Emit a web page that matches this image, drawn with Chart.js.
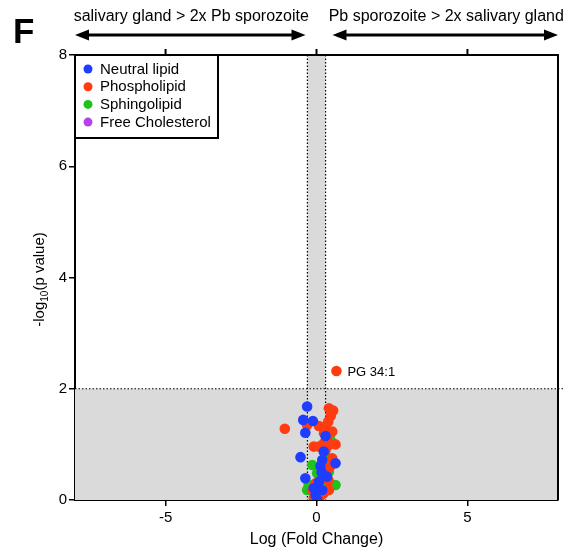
<!DOCTYPE html>
<html>
<head>
<meta charset="utf-8">
<script src="https://cdn.jsdelivr.net/npm/chart.js@4.4.0/dist/chart.umd.min.js"></script>
<style>
  html, body { margin: 0; padding: 0; background: #fff; }
  #wrap { width: 568px; height: 552px; position: relative; }
</style>
</head>
<body>
<div id="wrap"><canvas id="volcano"></canvas></div>
<script>
// [log fold change, -log10 p] per lipid class
const neutralLipid = [
  [-0.31, 1.68], [-0.44, 1.44], [-0.12, 1.42], [-0.37, 1.21], [0.30, 1.15],
  [-0.53, 0.77], [0.24, 0.87], [0.19, 0.72], [0.63, 0.66], [0.13, 0.61],
  [-0.37, 0.39], [0.08, 0.33], [0.35, 0.42], [-0.09, 0.21], [0.19, 0.18],
  [0.02, 0.01], [0.17, 0.50], [-0.03, 0.09]
];
const phospholipid = [
  [0.66, 2.32], [-1.05, 1.28], [0.41, 1.65], [0.55, 1.61], [0.47, 1.51],
  [0.39, 1.41], [0.08, 1.33], [0.30, 1.32], [-0.31, 1.35], [0.52, 1.23],
  [0.35, 1.08], [0.24, 1.02], [0.63, 1.00], [-0.09, 0.96], [0.08, 0.96],
  [0.41, 0.99], [0.30, 0.90], [0.52, 0.75], [0.35, 0.54], [-0.03, 0.30],
  [-0.14, 0.18], [0.24, 0.12], [-0.09, 0.03], [0.13, 0.07], [0.41, 0.18],
  [0.25, 1.20], [0.45, 0.60], [0.20, 0.40], [0.05, 0.12], [0.40, 0.35]
];
const sphingolipid = [
  [0.41, 1.23], [-0.14, 0.63], [0.47, 0.66], [0.41, 0.51], [0.63, 0.27],
  [-0.31, 0.18], [-0.26, 0.27], [0.30, 0.18], [0.19, 0.45], [0.02, 0.48],
  [0.30, 0.80], [0.15, 0.30], [-0.05, 0.10], [0.45, 1.10]
];
const freeCholesterol = [];

const classNames = ['Neutral lipid', 'Phospholipid', 'Sphingolipid', 'Free Cholesterol'];
const classColors = ['#1f3dff', '#ff3b12', '#1dc41d', '#b542e8'];
const xTicks = [-5, 0, 5];
const labelled = { name: 'PG 34:1', point: [0.66, 2.32] };

const FC_CUT = Math.log10(2);
const P_CUT = 2;
const FONT = 'Arial, "Liberation Sans", sans-serif';

function toXY(arr) { return arr.map(d => ({ x: d[0], y: d[1] })); }

const decor = {
  id: 'decor',
  beforeDatasetsDraw(chart) {
    const { ctx, chartArea: a, scales: { x, y } } = chart;
    const xl = x.getPixelForValue(-FC_CUT), xr = x.getPixelForValue(FC_CUT);
    const yc = y.getPixelForValue(P_CUT);
    ctx.save();
    ctx.fillStyle = '#dadada';
    ctx.fillRect(a.left, yc, a.right - a.left, a.bottom - yc);
    ctx.fillRect(xl, a.top, xr - xl, yc - a.top);
    ctx.strokeStyle = '#000';
    ctx.lineWidth = 1.2;
    ctx.setLineDash([1.5, 2]);
    ctx.beginPath();
    ctx.moveTo(a.left, yc); ctx.lineTo(a.right + 6, yc);
    ctx.moveTo(xl, a.top); ctx.lineTo(xl, a.bottom);
    ctx.moveTo(xr, a.top); ctx.lineTo(xr, a.bottom);
    ctx.stroke();
    ctx.restore();
  },
  afterDatasetsDraw(chart) {
    const { ctx, chartArea: a, scales: { x, y } } = chart;
    ctx.save();
    // frame top + right with upward ticks
    ctx.strokeStyle = '#000';
    ctx.lineWidth = 2;
    ctx.beginPath();
    ctx.moveTo(a.left - 1, a.top); ctx.lineTo(a.right, a.top); ctx.lineTo(a.right, a.bottom);
    xTicks.forEach(v => {
      const px = x.getPixelForValue(v);
      ctx.moveTo(px, a.top); ctx.lineTo(px, a.top - 6);
    });
    ctx.stroke();

    // legend box
    const lw = 143, lh = 83;
    ctx.fillStyle = '#fff';
    ctx.fillRect(a.left, a.top, lw, lh);
    ctx.strokeRect(a.left, a.top, lw, lh);
    ctx.font = '15px ' + FONT;
    ctx.textBaseline = 'middle';
    classNames.forEach((n, i) => {
      const ry = a.top + 14 + i * 17.7;
      ctx.fillStyle = classColors[i];
      ctx.beginPath(); ctx.arc(a.left + 13, ry, 4.5, 0, Math.PI * 2); ctx.fill();
      ctx.fillStyle = '#000';
      ctx.fillText(n, a.left + 25, ry + 0.5);
    });

    // point label
    ctx.font = '13px ' + FONT;
    ctx.fillText(labelled.name, x.getPixelForValue(labelled.point[0]) + 11, y.getPixelForValue(labelled.point[1]) + 1);
    ctx.restore();
  },
  afterDraw(chart) {
    const { ctx, chartArea: a, scales: { x } } = chart;
    const mid = x.getPixelForValue(0);
    ctx.save();
    ctx.fillStyle = '#000';
    ctx.strokeStyle = '#000';

    // panel letter
    ctx.font = 'bold 35px ' + FONT;
    ctx.textBaseline = 'alphabetic';
    ctx.fillText('F', 13, 43);

    // direction captions and arrows
    ctx.font = '16px ' + FONT;
    ctx.textBaseline = 'middle';
    ctx.textAlign = 'center';
    const segs = [[a.left, mid - 11, 'salivary gland > 2x Pb sporozoite'],
                  [mid + 16, a.right, 'Pb sporozoite > 2x salivary gland']];
    segs.forEach(([x0, x1, txt]) => {
      ctx.fillText(txt, (x0 + x1) / 2 + 1, 17);
      const ay = 35, hl = 14, hw = 5.5;
      ctx.lineWidth = 3;
      ctx.beginPath(); ctx.moveTo(x0 + hl - 2, ay); ctx.lineTo(x1 - hl + 2, ay); ctx.stroke();
      ctx.beginPath();
      ctx.moveTo(x0, ay); ctx.lineTo(x0 + hl, ay - hw); ctx.lineTo(x0 + hl, ay + hw); ctx.closePath();
      ctx.moveTo(x1, ay); ctx.lineTo(x1 - hl, ay - hw); ctx.lineTo(x1 - hl, ay + hw); ctx.closePath();
      ctx.fill();
    });

    // x axis title
    ctx.font = '16px ' + FONT;
    ctx.fillText('Log (Fold Change)', (a.left + a.right) / 2, 540);

    // y axis title with subscript
    ctx.translate(39, (a.top + a.bottom) / 2 + 2);
    ctx.rotate(-Math.PI / 2);
    ctx.textAlign = 'left';
    ctx.textBaseline = 'alphabetic';
    const big = '15px ' + FONT, small = '10px ' + FONT;
    ctx.font = big; const w1 = ctx.measureText('-log').width;
    ctx.font = small; const w2 = ctx.measureText('10').width;
    ctx.font = big; const w3 = ctx.measureText('(p value)').width;
    let sx = -(w1 + w2 + w3) / 2;
    ctx.fillText('-log', sx, 5); sx += w1;
    ctx.font = small; ctx.fillText('10', sx, 9); sx += w2;
    ctx.font = big; ctx.fillText('(p value)', sx, 5);
    ctx.restore();
  }
};

const series = [neutralLipid, phospholipid, sphingolipid, freeCholesterol];

new Chart(document.getElementById('volcano'), {
  type: 'scatter',
  data: {
    datasets: series.map((s, i) => ({
      label: classNames[i],
      data: toXY(s),
      backgroundColor: classColors[i],
      borderColor: classColors[i],
      pointRadius: 5.3,
      pointBorderWidth: 0
    }))
  },
  options: {
    responsive: true,
    maintainAspectRatio: false,
    animation: false,
    devicePixelRatio: 1,
    layout: { padding: { left: 20, top: 55, right: 10, bottom: 0 } },
    plugins: { legend: { display: false }, tooltip: { enabled: false } },
    scales: {
      x: {
        type: 'linear', min: -8, max: 8,
        afterBuildTicks: s => { s.ticks = xTicks.map(v => ({ value: v })); },
        afterFit: s => { s.height = 52; },
        grid: { drawOnChartArea: false, tickLength: 6, color: '#000', lineWidth: 1.5 },
        border: { color: '#000', width: 2 },
        ticks: { color: '#000', font: { family: FONT, size: 15 }, padding: 3, maxRotation: 0 }
      },
      y: {
        min: 0, max: 8,
        afterFit: s => { s.width = 55; },
        grid: { drawOnChartArea: false, tickLength: 6, color: '#000', lineWidth: 1.5 },
        border: { color: '#000', width: 2 },
        ticks: { stepSize: 2, color: '#000', font: { family: FONT, size: 15 }, padding: 2 }
      }
    }
  },
  plugins: [decor]
});
</script>
</body>
</html>
